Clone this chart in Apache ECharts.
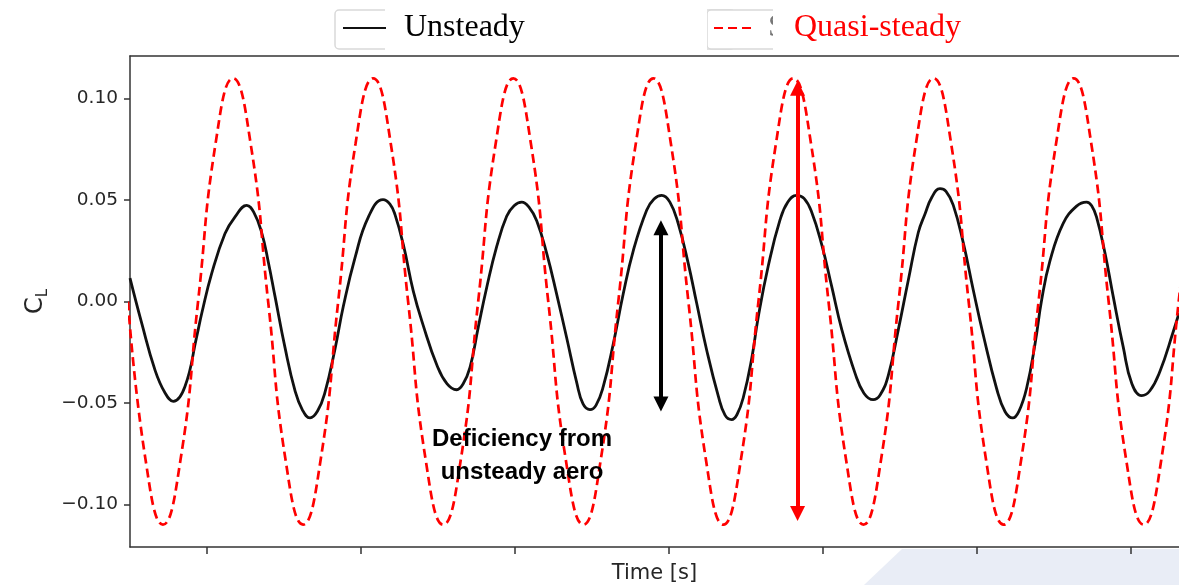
<!DOCTYPE html>
<html>
<head>
<meta charset="utf-8">
<script src="https://cdn.jsdelivr.net/npm/echarts@6/dist/echarts.min.js"></script>
<style>
html,body{margin:0;padding:0;background:#fff;}
#chart{width:1179px;height:585px;}
</style>
</head>
<body>
<div id="chart"></div>
<script>
// ---- data ----
const unsteadyTime = [0, 0.076, 0.162, 0.227, 0.281, 0.357, 0.433, 0.466, 0.531, 0.617,
  0.682, 0.758, 0.805, 0.855, 0.898, 0.942, 1.006, 1.071, 1.120, 1.169,
  1.218, 1.266, 1.331, 1.385, 1.461, 1.547, 1.643, 1.688, 1.721, 1.775,
  1.840, 1.905, 1.992, 2.058, 2.121, 2.162, 2.208, 2.262, 2.316, 2.381,
  2.446, 2.494, 2.544, 2.591, 2.641, 2.706, 2.771, 2.836, 2.901, 2.942,
  2.987, 3.026, 3.073, 3.138, 3.203, 3.268, 3.355, 3.403, 3.453, 3.506,
  3.560, 3.625, 3.680, 3.745, 3.820, 3.864, 3.907, 3.942, 3.983, 4.037,
  4.080, 4.145, 4.221, 4.273, 4.329, 4.377, 4.427, 4.492, 4.557, 4.621,
  4.708, 4.766, 4.826, 4.870, 4.924, 4.989, 5.054, 5.119, 5.162, 5.208,
  5.260, 5.299, 5.346, 5.411, 5.476, 5.541, 5.628, 5.682, 5.732, 5.773,
  5.823, 5.877, 5.920, 5.974, 6.060, 6.147, 6.212, 6.245, 6.277, 6.331,
  6.385, 6.450, 6.506, 6.570, 6.623, 6.688, 6.775, 6.812];
const unsteadyCL = [0.0115, -0.0107, -0.0337, -0.0450, -0.0492, -0.0419, -0.0173, -0.0058, 0.0140, 0.0335,
  0.0417, 0.0474, 0.0438, 0.0340, 0.0195, 0.0024, -0.0225, -0.0438, -0.0535, -0.0574,
  -0.0540, -0.0448, -0.0235, -0.0025, 0.0215, 0.0415, 0.0502, 0.0480, 0.0428, 0.0280,
  0.0050, -0.0120, -0.0312, -0.0405, -0.0435, -0.0408, -0.0325, -0.0125, 0.0068, 0.0270,
  0.0420, 0.0472, 0.0490, 0.0465, 0.0398, 0.0237, 0.0035, -0.0180, -0.0400, -0.0505,
  -0.0533, -0.0512, -0.0420, -0.0210, 0.0038, 0.0250, 0.0450, 0.0505, 0.0523, 0.0490,
  0.0384, 0.0188, -0.0009, -0.0240, -0.0465, -0.0560, -0.0582, -0.0557, -0.0472, -0.0282,
  -0.0075, 0.0176, 0.0402, 0.0492, 0.0523, 0.0508, 0.0440, 0.0280, 0.0073, -0.0135,
  -0.0353, -0.0452, -0.0484, -0.0462, -0.0365, -0.0140, 0.0105, 0.0340, 0.0430, 0.0515,
  0.0556, 0.0543, 0.0475, 0.0290, 0.0057, -0.0165, -0.0430, -0.0542, -0.0574, -0.0540,
  -0.0425, -0.0210, 0.0007, 0.0200, 0.0385, 0.0470, 0.0490, 0.0472, 0.0415, 0.0240,
  0.0024, -0.0225, -0.0405, -0.0464, -0.0440, -0.0345, -0.0148, -0.0058];

const quasiTime = [-0.013, 0.101, 0.214, 0.328, 0.442, 0.556, 0.669, 0.783, 0.897, 1.010, 1.124, 1.238, 1.352, 1.465, 1.579, 1.693, 1.806, 1.920, 2.034, 2.148, 2.261, 2.375, 2.489, 2.603, 2.716, 2.830, 2.944, 3.057, 3.171, 3.285, 3.399, 3.512, 3.626, 3.740, 3.853, 3.967, 4.081, 4.195, 4.308, 4.422, 4.536, 4.650, 4.763, 4.877, 4.991, 5.104, 5.218, 5.332, 5.446, 5.559, 5.673, 5.787, 5.900, 6.014, 6.128, 6.242, 6.355, 6.469, 6.583, 6.697, 6.810, 6.924];
const quasiCL = [0, -0.078, -0.11, -0.078, 0, 0.078, 0.11, 0.078,
                 0, -0.078, -0.11, -0.078, 0, 0.078, 0.11, 0.078,
                 0, -0.078, -0.11, -0.078, 0, 0.078, 0.11, 0.078,
                 0, -0.078, -0.11, -0.078, 0, 0.078, 0.11, 0.078,
                 0, -0.078, -0.11, -0.078, 0, 0.078, 0.11, 0.078,
                 0, -0.078, -0.11, -0.078, 0, 0.078, 0.11, 0.078,
                 0, -0.078, -0.11, -0.078, 0, 0.078, 0.11, 0.078,
                 0, -0.078, -0.11, -0.078, 0, 0.078];

const yTicks = [-0.10, -0.05, 0.00, 0.05, 0.10];
const xTicks = [0.5, 1.5, 2.5, 3.5, 4.5, 5.5, 6.5];
const seriesNames = ['Unsteady', 'Quasi-steady'];
const axisNames = { x: 'Time [s]', y: 'C', ySub: 'L' };
const annotationText = 'Deficiency from\nunsteady aero';
// arrow annotations: [time, CL top tip, CL bottom tip]
const blackArrow = [3.448, 0.040, -0.0542];
const redArrow = [4.335, 0.1088, -0.1082];

const X_MIN = 0, X_MAX = 6.812, Y_MIN = -0.121, Y_MAX = 0.121;

function zip(a, b) { return a.map((v, i) => [v, b[i]]); }
const headHalf = 0.0037;
function arrowLine(a, color) {
  return [
    { coord: [a[0], a[1] - headHalf], lineStyle: { color: color, width: 4, type: 'solid' }, itemStyle: { color: color } },
    { coord: [a[0], a[2] + headHalf] }
  ];
}

const chart = echarts.init(document.getElementById('chart'), null, { renderer: 'canvas' });
const axisColor = '#333';
const fmt = v => (v < 0 ? '\u2212' : '') + Math.abs(v).toFixed(2);

chart.setOption({
  animation: false,
  backgroundColor: '#fff',
  grid: { left: 130, right: 0, top: 56, bottom: 38, containLabel: false, outerBoundsMode: 'none' },
  legend: [
    {
      data: [seriesNames[0]], left: 342, top: 12, padding: 0,
      itemWidth: 43, itemHeight: 14, itemStyle: { opacity: 0 },
      textStyle: { fontFamily: 'Liberation Serif', fontSize: 32, color: '#000', padding: [0, 0, 0, 13] }
    },
    {
      data: [seriesNames[1]], left: 713, top: 12, padding: 0,
      itemWidth: 40, itemHeight: 14, itemStyle: { opacity: 0 },
      textStyle: { fontFamily: 'Liberation Serif', fontSize: 32, color: '#ff0000', padding: [0, 0, 0, 35] }
    }
  ],
  xAxis: [
    {
      type: 'value', min: X_MIN, max: X_MAX, position: 'bottom',
      axisLine: { show: true, onZero: false, lineStyle: { color: axisColor, width: 1.5 } },
      axisTick: { show: true, customValues: xTicks, length: 7, lineStyle: { color: axisColor, width: 1.5 } },
      axisLabel: { show: false },
      splitLine: { show: false },
      name: axisNames.x, nameLocation: 'middle', nameGap: 16,
      nameTextStyle: { fontFamily: 'DejaVu Sans', fontSize: 21, color: '#262626' }
    },
    {
      type: 'value', min: X_MIN, max: X_MAX, position: 'top',
      axisLine: { show: true, onZero: false, lineStyle: { color: axisColor, width: 1.5 } },
      axisTick: { show: false }, axisLabel: { show: false }, splitLine: { show: false }
    }
  ],
  yAxis: {
    type: 'value', min: Y_MIN, max: Y_MAX,
    axisLine: { show: true, onZero: false, lineStyle: { color: axisColor, width: 1.5 } },
    axisTick: { show: true, customValues: yTicks, length: 6, lineStyle: { color: axisColor, width: 1.5 } },
    axisLabel: { customValues: yTicks, formatter: fmt, margin: 12, fontFamily: 'DejaVu Sans', fontSize: 18.5, color: '#262626' },
    splitLine: { show: false },
    name: '{c|' + axisNames.y + '}{s|' + axisNames.ySub + '}',
    nameLocation: 'middle', nameRotate: 90, nameGap: 76,
    nameTextStyle: {
      rich: {
        c: { fontFamily: 'DejaVu Sans', fontSize: 24, color: '#262626', lineHeight: 30 },
        s: { fontFamily: 'DejaVu Sans', fontSize: 15, color: '#262626', lineHeight: 14, verticalAlign: 'bottom' }
      }
    }
  },
  series: [
    {
      name: seriesNames[0], type: 'line', data: zip(unsteadyTime, unsteadyCL),
      smooth: 0.45, showSymbol: false, symbol: 'none', z: 2,
      lineStyle: { color: '#111', width: 2.8 }, itemStyle: { color: '#111' },
      markLine: {
        silent: true, symbol: ['triangle', 'triangle'], symbolSize: [15, 15],
        label: { show: false },
        data: [arrowLine(blackArrow, '#000'), arrowLine(redArrow, '#ff0000')]
      }
    },
    {
      name: seriesNames[1], type: 'line', data: zip(quasiTime, quasiCL),
      smooth: true, showSymbol: false, symbol: 'none', z: 3,
      lineStyle: { color: '#ff0000', width: 2.7, type: [9, 5] }, itemStyle: { color: '#ff0000' }
    }
  ],
  graphic: [
    { type: 'polygon', z: -1, shape: { points: [[902, 549], [1179, 549], [1179, 585], [864, 585]] }, style: { fill: '#e9edf6' } },
    { type: 'rect', z: 0, shape: { x: 335, y: 10, width: 400, height: 39, r: 4 }, style: { fill: '#fff', stroke: '#d9d9d9', lineWidth: 1.5 } },
    { type: 'rect', z: 0, shape: { x: 707, y: 10, width: 500, height: 39, r: 4 }, style: { fill: '#fff', stroke: '#d9d9d9', lineWidth: 1.5 } },
    { type: 'text', z: 0, x: 768, y: 28, style: { text: 'S', fontFamily: 'Liberation Serif', fontSize: 32, fill: '#777', verticalAlign: 'middle' } },
    { type: 'rect', z: 1, shape: { x: 385, y: 0, width: 322, height: 53 }, style: { fill: '#fff' } },
    { type: 'rect', z: 1, shape: { x: 773, y: 0, width: 420, height: 53 }, style: { fill: '#fff' } },
    { type: 'text', z: 5, x: 522, y: 456, style: { text: annotationText, fontFamily: 'Liberation Sans', fontWeight: 'bold', fontSize: 24, lineHeight: 33, fill: '#000', align: 'center', verticalAlign: 'middle' } }
  ]
});
</script>
</body>
</html>
